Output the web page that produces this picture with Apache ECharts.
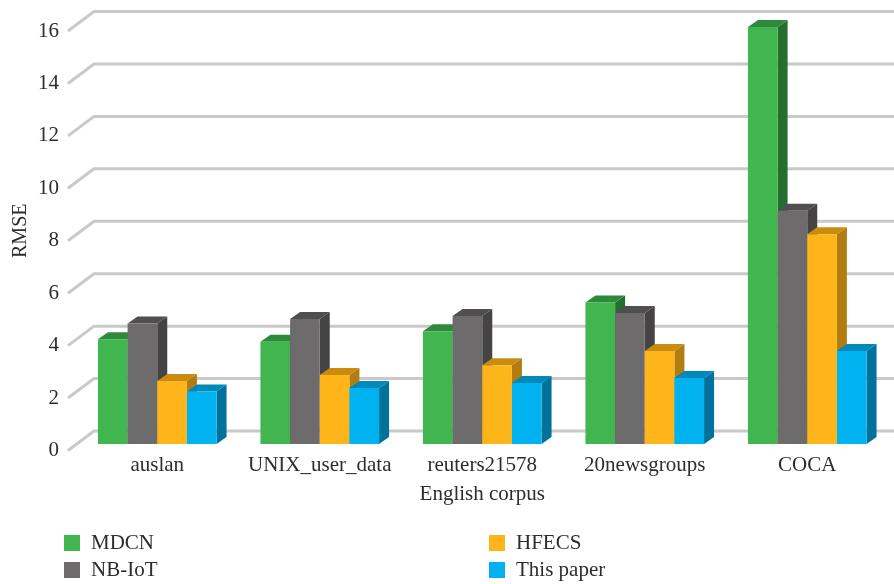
<!DOCTYPE html>
<html>
<head>
<meta charset="utf-8">
<style>html,body{margin:0;padding:0;background:#fff}#chart{width:894px;height:584px}</style>
<script src="https://cdn.jsdelivr.net/npm/echarts@6/dist/echarts.min.js"></script>
</head>
<body>
<div id="chart"></div>
<script>
// RMSE per English corpus, one array per method
const corpora = ['auslan', 'UNIX_user_data', 'reuters21578', '20newsgroups', 'COCA'];
const mdcn = [4.0, 3.9, 4.3, 5.4, 15.9];
const nbIot = [4.6, 4.77, 4.88, 5.0, 8.9];
const hfecs = [2.4, 2.63, 3.0, 3.55, 8.0];
const thisPaper = [2.0, 2.14, 2.33, 2.52, 3.55];
const yTicks = [0, 2, 4, 6, 8, 10, 12, 14, 16];

const methods = [
  { name: 'MDCN', values: mdcn, front: '#41B64F', top: '#2E8A3B', side: '#236F30' },
  { name: 'NB-IoT', values: nbIot, front: '#6E6B6C', top: '#504E4F', side: '#454344' },
  { name: 'HFECS', values: hfecs, front: '#FDB51A', top: '#C98C10', side: '#B37C10' },
  { name: 'This paper', values: thisPaper, front: '#00B2F0', top: '#0089BB', side: '#00729C' }
];

// Oblique projection of the chart box
const WALL_DX = 26, WALL_DY = -19.5;
const BAR_DX = 10, BAR_DY = -7;
const FLOOR_LIFT = 6.5;
const BAR_SHARE = 0.1825;
const FONT = '"Liberation Serif", serif';
const INK = '#2f2c2d';

function wallLine(params, api) {
  const p = api.coord([0, api.value(1)]);
  const cs = params.coordSys;
  const x0 = cs.x - 8;
  const pts = [[x0, p[1]], [x0 + WALL_DX, p[1] + WALL_DY], [894, p[1] + WALL_DY]];
  return {
    type: 'polyline',
    shape: { points: pts },
    style: { stroke: '#C9C9C9', lineWidth: 3, fill: null }
  };
}

function bar3d(seriesIndex) {
  const m = methods[seriesIndex];
  return function (params, api) {
    const cat = api.value(0);
    const band = api.size([1, 0])[0];
    const w = band * BAR_SHARE;
    const c = api.coord([cat, api.value(1)]);
    const base = api.coord([cat, 0]);
    const l = c[0] + (seriesIndex - 2) * w;
    const r = l + w;
    const t = c[1] - FLOOR_LIFT;
    const b = base[1] - FLOOR_LIFT;
    const poly = (points, fill) => ({ type: 'polygon', shape: { points }, style: { fill } });
    return {
      type: 'group',
      children: [
        poly([[r, b], [r + BAR_DX, b + BAR_DY], [r + BAR_DX, t + BAR_DY], [r, t]], m.side),
        poly([[l, t], [l + BAR_DX, t + BAR_DY], [r + BAR_DX, t + BAR_DY], [r, t]], m.top),
        poly([[l, t], [r, t], [r, b], [l, b]], m.front)
      ]
    };
  };
}

const series = [{
  type: 'custom',
  name: 'walls',
  silent: true,
  z: 1,
  renderItem: wallLine,
  data: yTicks.map(v => [0, v])
}].concat(methods.map((m, i) => ({
  type: 'custom',
  name: m.name,
  z: 2,
  itemStyle: { color: m.front },
  renderItem: bar3d(i),
  data: m.values.map((v, k) => [k, v])
})));

const legendBase = {
  orient: 'vertical',
  icon: 'rect',
  itemWidth: 16,
  itemHeight: 16,
  itemGap: 0,
  selectedMode: false,
  padding: 0,
  textStyle: { fontFamily: FONT, fontSize: 21, lineHeight: 22, color: INK, padding: [0, 0, 5, 6] }
};

const chart = echarts.init(document.getElementById('chart'));
chart.setOption({
  animation: false,
  backgroundColor: '#fff',
  grid: { left: 76, right: 5.5, top: 31, bottom: 133.5, outerBoundsMode: 'none' },
  legend: [
    Object.assign({ left: 64, top: 529.5, data: ['MDCN', 'NB-IoT'] }, legendBase),
    Object.assign({ left: 489, top: 529.5, data: ['HFECS', 'This paper'] }, legendBase)
  ],
  xAxis: {
    type: 'category',
    data: corpora,
    name: 'English corpus',
    nameLocation: 'middle',
    nameGap: 33,
    nameMoveOverlap: false,
    nameTextStyle: { fontFamily: FONT, fontSize: 21, color: INK },
    axisLine: { show: false },
    axisTick: { show: false },
    axisLabel: { fontFamily: FONT, fontSize: 21, color: INK, margin: 4, interval: 0 }
  },
  yAxis: {
    type: 'value',
    min: 0,
    max: 16,
    interval: 2,
    name: 'RMSE',
    nameLocation: 'middle',
    nameGap: 45,
    nameMoveOverlap: false,
    nameTextStyle: { fontFamily: FONT, fontSize: 20, color: INK, padding: [0, 0, 0, 20] },
    axisLine: { show: false },
    axisTick: { show: false },
    splitLine: { show: false },
    axisLabel: { fontFamily: FONT, fontSize: 21, color: INK, margin: 17, padding: [6, 0, 0, 0] }
  },
  series
});
</script>
</body>
</html>
